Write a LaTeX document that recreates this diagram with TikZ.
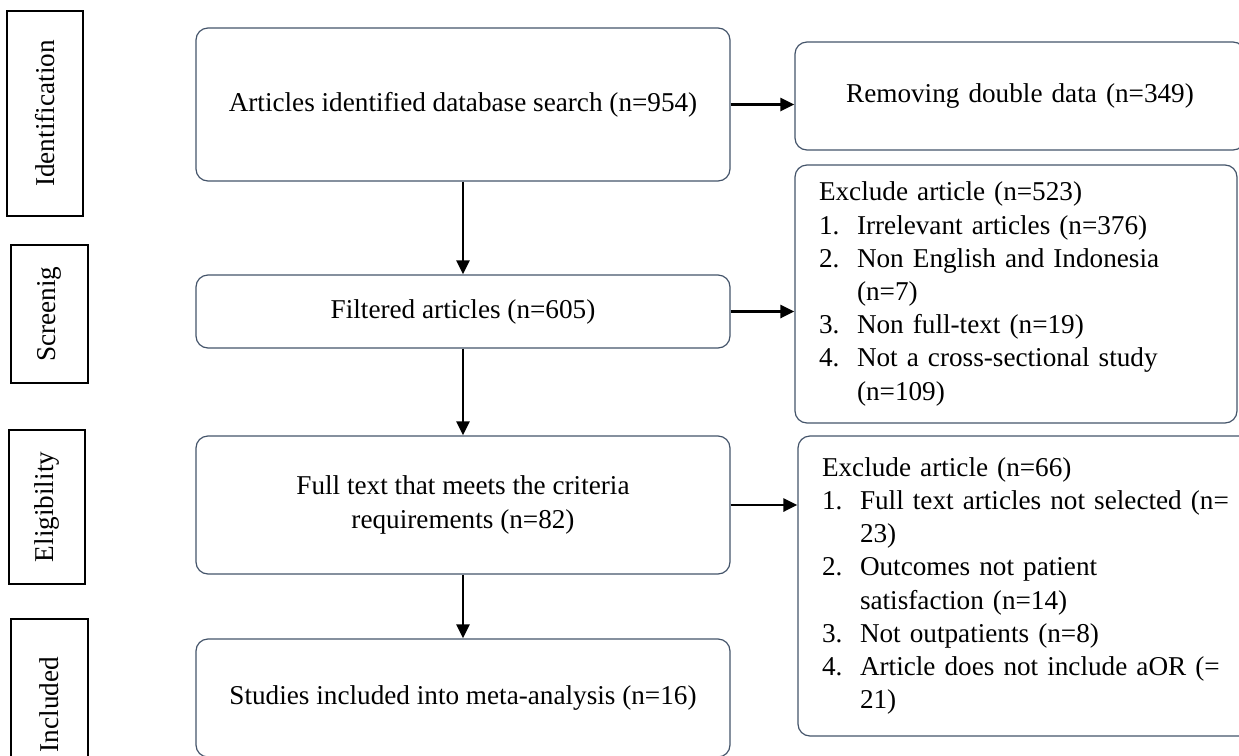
\documentclass[tikz,border=0pt]{standalone}
\usepackage{fontspec}
\setmainfont{Liberation Serif}
\usetikzlibrary{arrows.meta}
\definecolor{boxline}{RGB}{68,84,106}
\newcommand{\listno}[1]{\makebox[19pt][l]{#1}}
\newcommand{\listgap}{\hspace*{19pt}}

\begin{document}
\begin{tikzpicture}[x=0.5pt, y=-0.5pt,
    txt/.style={font=\fontsize{13.6}{16.6}\selectfont},
    phase/.style={txt, draw, line width=1pt, rotate=90, inner sep=0pt},
    flow/.style={txt, draw=boxline, line width=0.6pt, rounded corners=6pt, minimum width=267pt, align=center, inner sep=0pt},
    side/.style={txt, draw=boxline, line width=0.6pt, rounded corners=6pt, inner xsep=12pt, inner ysep=0pt},
    arr/.style={line width=1.4pt, -{Triangle[length=7pt, width=6.5pt]}}]
        \useasboundingbox (0,0) rectangle (1239,756);
        \node[phase, minimum width=102.5pt, minimum height=38pt] (ident) at (45,113.5) {Identification};
        \node[phase, minimum width=69pt, minimum height=38.5pt] (screen) at (49.5,314) {Screenig};
        \node[phase, minimum width=77pt, minimum height=38pt] (elig) at (47,507) {Eligibility};
        \node[phase, minimum width=85.5pt, minimum height=38.5pt] (incl) at (49.5,704.5) {Included};
        \node[flow, minimum height=76.5pt] (art) at (463,104.5) {Articles identified database search (n=954)};
        \node[flow, minimum height=36.5pt] (filt) at (463,311.5) {Filtered articles (n=605)};
        \node[flow, minimum height=69pt] (full) at (463,505) {Full text that meets the criteria\\requirements (n=82)};
        \node[flow, minimum height=59pt] (stud) at (463,698) {Studies included into meta-analysis (n=16)};
        \node[side, text width=201pt, align=center, minimum height=54pt] (rem) at (1020,96) {Removing double data (n=349)};
        \node[side, text width=197pt, align=left, minimum height=129pt] (exa) at (1016,294) {Exclude article (n=523)\\
            \listno{1.}Irrelevant articles (n=376)\\
            \listno{2.}Non English and Indonesia\\
            \listgap(n=7)\\
            \listno{3.}Non full-text (n=19)\\
            \listno{4.}Not a cross-sectional study\\
            \listgap(n=109)};
        \node[side, text width=215pt, align=left, minimum height=150pt] (exb) at (1037,586) {Exclude article (n=66)\\
            \listno{1.}Full text articles not selected (n=\\
            \listgap 23)\\
            \listno{2.}Outcomes not patient\\
            \listgap satisfaction (n=14)\\
            \listno{3.}Not outpatients (n=8)\\
            \listno{4.}Article does not include aOR (=\\
            \listgap 21)};
        \draw[arr] (art.south) -- (filt.north);
        \draw[arr] (filt.south) -- (full.north);
        \draw[arr] (full.south) -- (stud.north);
        \draw[arr] (art.east) -- (rem.west |- art.east);
        \draw[arr] (filt.east) -- (exa.west |- filt.east);
        \draw[arr] (full.east) -- (exb.west |- full.east);
\end{tikzpicture}
\end{document}
